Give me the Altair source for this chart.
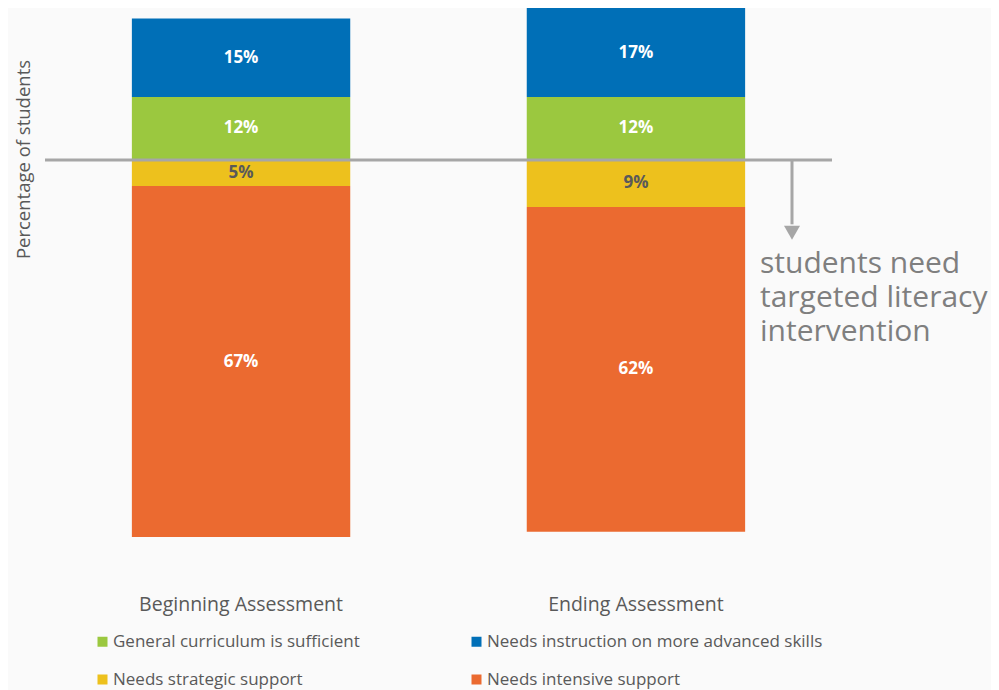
import altair as alt
import pandas as pd

assessments = ["Beginning Assessment", "Ending Assessment"]
levels = [
    "General curriculum is sufficient",
    "Needs strategic support",
    "Needs instruction on more advanced skills",
    "Needs intensive support",
]
colors = ["#9BC83F", "#EDC11D", "#006FB7", "#EB6A30"]
side = [1, -1, 1, -1]          # above / below the line
stack_order = [0, 0, 1, 1]
beginning = [12, 5, 15, 67]
ending = [12, 9, 17, 62]
annotation = "students need\ntargeted literacy\nintervention"

rows = []
for a, vals in zip(assessments, [beginning, ending]):
    for lvl, v, s, o in zip(levels, vals, side, stack_order):
        rows.append({"assessment": a, "level": lvl, "pct": v, "signed": v * s, "order": o})
df = pd.DataFrame(rows)

W, H = 787, 550
GRAY = "#595959"

x = alt.X(
    "assessment:N",
    scale=alt.Scale(domain=assessments, paddingInner=0.447, paddingOuter=0.22),
    axis=alt.Axis(title=None, labelAngle=0, ticks=False, tickSize=0, domain=False, labelLimit=400,
                  labelPadding=37, labelFontSize=19.5, labelColor=GRAY, labelFont="Open Sans"),
)
yscale = alt.Scale(domain=[-76, 29], nice=False, zero=False)

base = alt.Chart(df).transform_stack(
    stack="signed", groupby=["assessment"], as_=["y0", "y1"],
    sort=[alt.SortField("order", order="ascending")],
).transform_calculate(mid="(datum.y0 + datum.y1) / 2", label="datum.pct + '%'")

bars = base.mark_bar().encode(
    x=x,
    y=alt.Y("y0:Q", scale=yscale,
            axis=alt.Axis(title="Percentage of students", labels=False, ticks=False, domain=False,
                          grid=False, titleFontSize=18.5, titleColor=GRAY, titleFont="Open Sans",
                          titleFontWeight="normal", titleX=-16, titleY=151,
                          titleBaseline="alphabetic")),
    y2="y1:Q",
    color=alt.Color("level:N", scale=alt.Scale(domain=levels, range=colors),
                    legend=alt.Legend(title=None, orient="none", legendX=49, legendY=625,
                                      columns=2, symbolType="square", symbolSize=100,
                                      symbolStrokeWidth=0, labelFontSize=17, labelFont="Open Sans",
                                      labelColor=GRAY, columnPadding=108, rowPadding=20,
                                      labelOffset=2, labelLimit=500)),
)

labels = base.mark_text(font="Open Sans", fontWeight="bold", fontSize=17).encode(
    x=x,
    y=alt.Y("mid:Q", scale=yscale),
    text="label:N",
    color=alt.condition(alt.datum.level == "Needs strategic support", alt.value(GRAY), alt.value("white")),
)

line_df = pd.DataFrame({"y": [0], "y2": [-12.3], "tip": [-13.9], "t": [annotation]})

hline = alt.Chart(line_df).mark_rule(color="#A6A6A6", strokeWidth=3).encode(
    y=alt.Y("y:Q", scale=yscale), x=alt.value(0), x2=alt.value(W)
)
arrow = alt.Chart(line_df).mark_rule(color="#A6A6A6", strokeWidth=3).encode(
    x=alt.value(747), y=alt.Y("y:Q", scale=yscale), y2="y2:Q"
)
tip = alt.Chart(line_df).mark_point(shape="triangle-down", filled=True, size=256,
                                    color="#A6A6A6", opacity=1).encode(
    x=alt.value(747), y=alt.Y("tip:Q", scale=yscale)
)
note = alt.Chart(line_df).mark_text(align="left", baseline="middle", fontSize=30, lineHeight=34,
                                    font="Open Sans", color="#7F7F7F", lineBreak="\n").encode(
    x=alt.value(715), y=alt.value(256), text="t:N"
)

chart = alt.layer(bars, labels, hline, arrow, tip, note).properties(
    width=W, height=H,
    background="#FAFAFA",
    autosize=alt.AutoSizeParams(type="none"),
    padding={"left": 37, "top": 0, "right": 159, "bottom": 132},
).configure_view(stroke=None)

chart.save("out.html", embed_options={"renderer": "svg", "actions": False})
